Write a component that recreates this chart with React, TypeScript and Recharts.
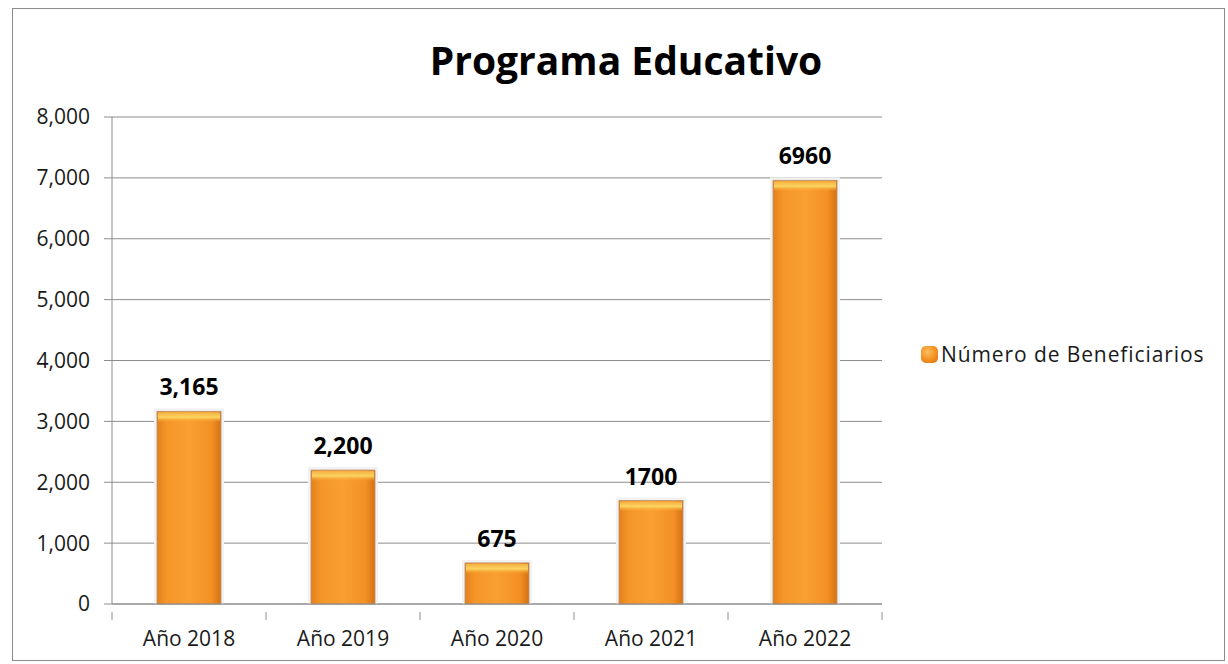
import React from 'react';
import { BarChart, Bar, XAxis, YAxis, CartesianGrid, Legend, LabelList } from 'recharts';

const categories = ['Año 2018', 'Año 2019', 'Año 2020', 'Año 2021', 'Año 2022'];
const beneficiarios = [3165, 2200, 675, 1700, 6960];
const valueLabels = ['3,165', '2,200', '675', '1700', '6960'];
const yTicks = [0, 1000, 2000, 3000, 4000, 5000, 6000, 7000, 8000];
const seriesName = 'Número de Beneficiarios';
const title = 'Programa Educativo';

const data = categories.map((c, i) => ({ name: c, value: beneficiarios[i], label: valueLabels[i] }));

const FONT = '"Open Sans", sans-serif';

const BarShape = (props: any) => {
  const { x, y, width, height } = props;
  if (height <= 0) return null;
  return (
    <g>
      <rect x={x - 3} y={y - 3} width={width + 6} height={height + 3} fill="#f2f2f2" />
      <rect x={x} y={y} width={width} height={height} fill="url(#barGrad)" stroke="#b89070" strokeWidth={0.8} />
      <rect x={x + 1} y={y + 1} width={width - 2} height={Math.min(10, height - 2)} fill="url(#topGrad)" />
    </g>
  );
};

const XTick = (props: any) => {
  const { x, y, payload, index } = props;
  const band = 154;
  return (
    <g>
      <line x1={x - band / 2} y1={y} x2={x - band / 2} y2={y + 8} stroke="#8c8c8c" />
      {index === categories.length - 1 && (
        <line x1={x + band / 2} y1={y} x2={x + band / 2} y2={y + 8} stroke="#8c8c8c" />
      )}
      <text x={x} y={y + 34} textAnchor="middle" fontSize={21} fontFamily={FONT} fill="#1a1a1a">
        {payload.value}
      </text>
    </g>
  );
};

const LegendContent = () => (
  <div style={{ display: 'flex', alignItems: 'center', fontFamily: FONT, fontSize: 21, color: '#1a1a1a', letterSpacing: 0.9 }}>
    <span
      style={{
        display: 'inline-block',
        width: 17,
        height: 17,
        borderRadius: 5,
        background: 'radial-gradient(circle at 40% 35%, #fcc060 0%, #f39020 55%, #d8700c 100%)',
        marginRight: 3,
      }}
    />
    <span>{seriesName}</span>
  </div>
);

export default function App() {
  return (
    <div style={{ position: 'absolute', left: 0, top: 0, width: 1228, height: 664, background: '#fff' }}>
      <div
        style={{
          position: 'absolute',
          left: 12,
          top: 8,
          width: 1213,
          height: 653,
          border: '1px solid #8c8c8c',
          boxSizing: 'border-box',
        }}
      />
      <div
        style={{
          position: 'absolute',
          left: 0,
          width: 1252,
          top: 33,
          textAlign: 'center',
          fontFamily: FONT,
          fontWeight: 700,
          fontSize: 39,
          color: '#000',
          lineHeight: '54px',
        }}
      >
        {title}
      </div>
      <div style={{ position: 'absolute', left: 0, top: 0 }}>
        <BarChart
          width={1228}
          height={664}
          data={data}
          margin={{ top: 117, right: 346, bottom: 30, left: 12 }}
          barSize={64}
        >
          <defs>
            <linearGradient id="barGrad" x1="0" y1="0" x2="1" y2="0">
              <stop offset="0%" stopColor="#e2801a" />
              <stop offset="15%" stopColor="#f59528" />
              <stop offset="50%" stopColor="#fa9f32" />
              <stop offset="85%" stopColor="#f39024" />
              <stop offset="100%" stopColor="#d47214" />
            </linearGradient>
            <linearGradient id="topGrad" x1="0" y1="0" x2="0" y2="1">
              <stop offset="0%" stopColor="#f6b040" />
              <stop offset="50%" stopColor="#fbd460" />
              <stop offset="100%" stopColor="#f9a432" stopOpacity={0} />
            </linearGradient>
          </defs>
          <CartesianGrid vertical={false} stroke="#8c8c8c" strokeWidth={1} />
          <XAxis
            dataKey="name"
            stroke="#8c8c8c"
            tickLine={false}
            tick={<XTick />}
            interval={0}
          />
          <YAxis
            width={100}
            domain={[0, 8000]}
            ticks={yTicks}
            stroke="#8c8c8c"
            tickSize={8}
            tickMargin={14}
            tickFormatter={(v: number) => v.toLocaleString('en-US')}
            tick={{ fill: '#1a1a1a', fontSize: 21, fontFamily: FONT }}
          />
          <Legend
            layout="horizontal"
            align="center"
            verticalAlign="middle"
            content={<LegendContent />}
            wrapperStyle={{ left: 921, top: 340, width: 307, height: 30 }}
          />
          <Bar dataKey="value" name={seriesName} shape={<BarShape />} isAnimationActive={false}>
            <LabelList
              dataKey="label"
              position="top"
              offset={16}
              fill="#000"
              fontSize={23}
              fontWeight={700}
              fontFamily={FONT}
            />
          </Bar>
        </BarChart>
      </div>
    </div>
  );
}
